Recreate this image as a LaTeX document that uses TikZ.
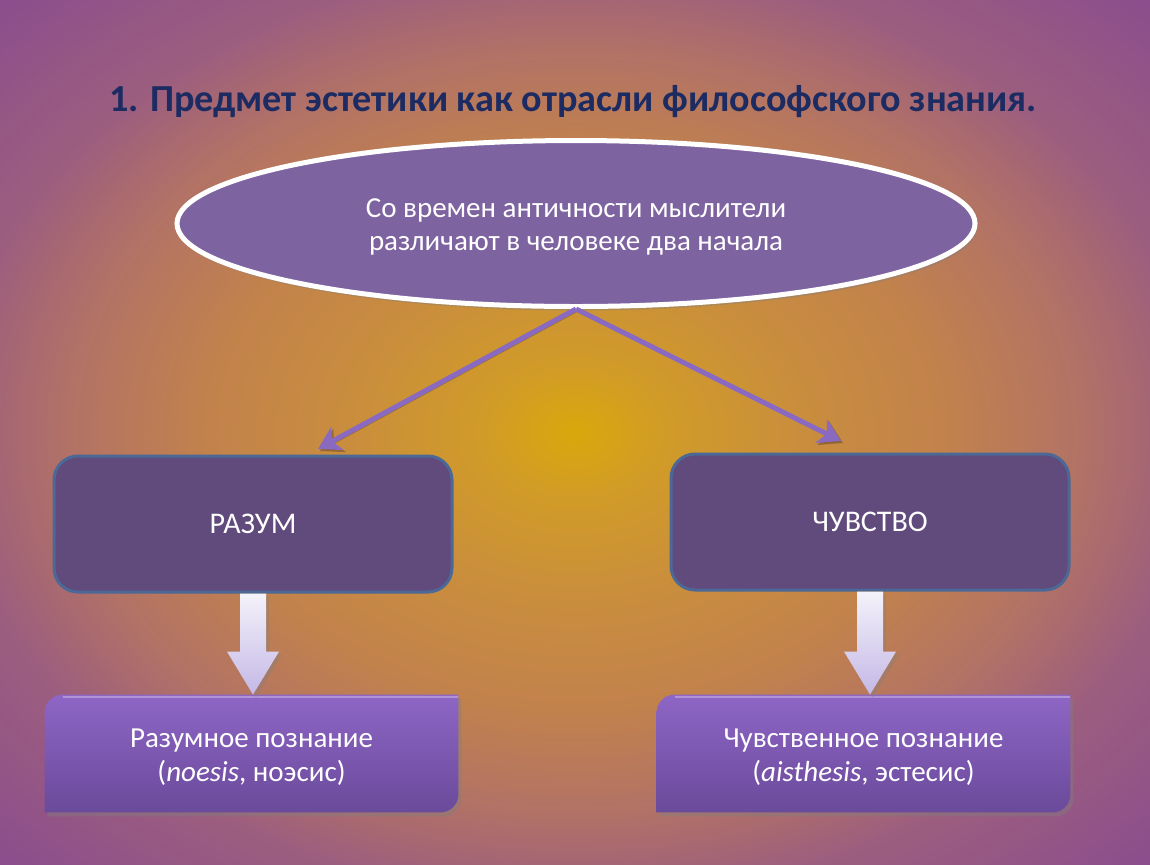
\documentclass[tikz,border=0pt]{standalone}
\usepackage{fontspec}
\setmainfont{Carlito}
\usetikzlibrary{shapes.geometric,arrows.meta,shadows,calc}

\definecolor{titlec}{HTML}{1C2B62}
\definecolor{ellfill}{HTML}{7E63A1}
\definecolor{boxfill}{HTML}{614A7C}
\definecolor{boxdraw}{HTML}{4B6896}
\definecolor{connc}{HTML}{8A6AC0}
\definecolor{lowtop}{HTML}{8E66C6}
\definecolor{lowbot}{HTML}{6A4A9A}
\definecolor{bartop}{HTML}{F4F2FA}
\definecolor{barbot}{HTML}{C4B8E6}
\definecolor{bgA}{HTML}{D8A80C}
\definecolor{bgB}{HTML}{D19B28}
\definecolor{bgC}{HTML}{C98D3E}
\definecolor{bgD}{HTML}{C2824C}
\definecolor{bgE}{HTML}{B27266}
\definecolor{bgF}{HTML}{9C5E7E}
\definecolor{bgG}{HTML}{8A4C8E}

\pgfdeclareradialshading{bgshade}{\pgfpoint{0bp}{0bp}}{color(0bp)=(bgA); color(4bp)=(bgB); color(10bp)=(bgC); color(16bp)=(bgD); color(22bp)=(bgE); color(27bp)=(bgF); color(36bp)=(bgG)}

\newcommand\blockarr[2]{%
  \path[barrow] let \p1=(#1), \p2=(#2) in
    (\x1-6.5pt,\y1) -- (\x1+6.5pt,\y1) -- (\x1+6.5pt,\y2+21.5pt) -- (\x1+13pt,\y2+21.5pt)
    -- (\x1,\y2) -- (\x1-13pt,\y2+21.5pt) -- (\x1-6.5pt,\y2+21.5pt) -- cycle;}

\newcommand\lowshape[1]{%
  \path[lowfill] (#1.south west) -- ([yshift=-9pt]#1.north west)
    arc[start angle=180,end angle=90,radius=9pt] -- (#1.north east)
    -- ([yshift=9pt]#1.south east) arc[start angle=0,end angle=-90,radius=9pt] -- cycle;
  \draw[white,opacity=0.3,line width=1pt] ([xshift=9pt,yshift=-1.2pt]#1.north west) -- ([yshift=-1.2pt]#1.north east);}

\begin{document}
\begin{tikzpicture}[x=0.5pt,y=-0.5pt,
  titlestyle/.style={text=titlec,font=\bfseries\fontsize{19.1}{23}\selectfont},
  ellstyle/.style={ellipse,fill=ellfill,draw=white,line width=2.5pt,minimum width=399pt,
    minimum height=83pt,
    drop shadow={opacity=0.4,shadow xshift=1pt,shadow yshift=-2pt}},
  ctext/.style={text=white,align=center,font=\fontsize{14.5}{16.5}\selectfont},
  boxstyle/.style={rectangle,rounded corners=12pt,fill=boxfill,draw=boxdraw,line width=1.5pt,
    minimum width=199pt,minimum height=68pt,text=white,font=\fontsize{15}{18}\selectfont},
  lowstyle/.style={rectangle,minimum width=206.5pt,minimum height=58.5pt},
  lowtext/.style={text=white,align=center,font=\fontsize{14.5}{17}\selectfont},
  lowfill/.style={top color=lowtop,bottom color=lowbot,
    drop shadow={opacity=0.4,shadow xshift=1.5pt,shadow yshift=-2pt}},
  barrow/.style={top color=bartop,bottom color=barbot,
    drop shadow={opacity=0.35,shadow xshift=1.5pt,shadow yshift=-1.5pt}},
  conn/.style={draw=connc,line width=2.5pt,-{Stealth[length=11pt,width=13pt,inset=3pt]},
    preaction={draw=black,opacity=0.25,transform canvas={xshift=1pt,yshift=-1pt}}}
]
\shade[shading=bgshade] (0,0) rectangle (1150,864);
\useasboundingbox (0,0) rectangle (1150,864);

\node[titlestyle] (title) at (573,102) {1. Предмет эстетики как отрасли философского знания.};

\node[ellstyle] (ell) at (576,223.5) {};
\node[ctext] (ellt) at (576,227)
  {Со времен античности мыслители\\различают в человеке два начала};

\node[boxstyle] (raz) at (253,524) {РАЗУМ};
\node[boxstyle] (chu) at (870,522) {ЧУВСТВО};

\coordinate (la) at (318,449);
\coordinate (ra) at (841,441);
\draw[conn] (ell.south) -- (la);
\draw[conn] (ell.south) -- (ra);

\node[lowstyle] (nl) at (251.5,753.5) {};
\node[lowstyle] (nr) at (863.5,753.5) {};
\lowshape{nl}
\lowshape{nr}
\node[lowtext] (tl) at (251.5,757.5) {Разумное познание\\(\textit{noesis}, ноэсис)};
\node[lowtext] (tr) at (863.5,757.5) {Чувственное познание\\(\textit{aisthesis}, эстесис)};

\blockarr{raz.south}{nl.north}
\blockarr{chu.south}{nr.north}
\end{tikzpicture}
\end{document}
